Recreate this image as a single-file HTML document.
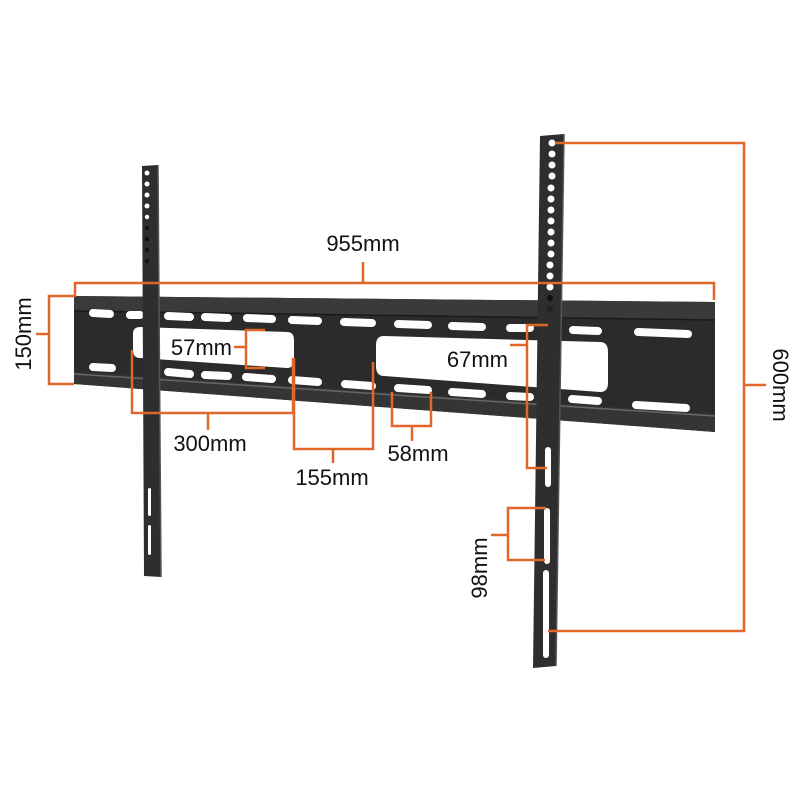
<!DOCTYPE html>
<html><head><meta charset="utf-8"><style>
html,body{margin:0;padding:0;background:#fff}
svg{display:block}
text{font-family:"Liberation Sans",sans-serif;font-size:22px;fill:#111}
</style></head><body>
<svg width="800" height="800" viewBox="0 0 800 800" xmlns="http://www.w3.org/2000/svg">
<rect width="800" height="800" fill="#fff"/>
<!-- main plate -->
<polygon points="74,296 715,302 715,432 74,384" fill="#2b2b2b"/>
<polygon points="74,296 715,302 715,320 74,311" fill="#3a3a3a"/>
<polygon points="74,372 715,414 715,432 74,384" fill="#353535"/>
<line x1="74" y1="374" x2="715" y2="416" stroke="#666" stroke-width="1.5"/>
<line x1="74" y1="311" x2="715" y2="320" stroke="#1a1a1a" stroke-width="1.5"/>
<!-- cutouts -->
<path d="M140,327 L287,332 Q294,332 294,340 L294,360 Q294,368 287,368 L140,358 Q133,358 133,350 L133,334 Q133,327 140,327Z" fill="#fff"/>
<path d="M384,336 L600,342 Q608,342 608,352 L608,383 Q608,392 600,392 L384,376 Q376,376 376,366 L376,345 Q376,336 384,336Z" fill="#fff"/>
<!-- slots -->
<g stroke="#fff" stroke-width="8" stroke-linecap="round">
<line x1="93" y1="313" x2="110" y2="314"/>
<line x1="130" y1="315" x2="140" y2="315"/>
<line x1="168" y1="316" x2="190" y2="317"/>
<line x1="205" y1="317" x2="228" y2="318"/>
<line x1="247" y1="318" x2="272" y2="319"/>
<line x1="292" y1="320" x2="318" y2="321"/>
<line x1="344" y1="322" x2="372" y2="323"/>
<line x1="398" y1="324" x2="428" y2="325"/>
<line x1="452" y1="326" x2="482" y2="327"/>
<line x1="510" y1="328" x2="530" y2="328"/>
<line x1="573" y1="330" x2="598" y2="331"/>
<line x1="638" y1="332" x2="688" y2="334"/>
<line x1="93" y1="367" x2="112" y2="368"/>
<line x1="168" y1="372" x2="190" y2="374"/>
<line x1="205" y1="375" x2="228" y2="376"/>
<line x1="246" y1="377" x2="272" y2="379"/>
<line x1="292" y1="380" x2="318" y2="382"/>
<line x1="345" y1="384" x2="372" y2="386"/>
<line x1="398" y1="388" x2="428" y2="390"/>
<line x1="452" y1="392" x2="482" y2="394"/>
<line x1="510" y1="396" x2="530" y2="397"/>
<line x1="572" y1="399" x2="598" y2="401"/>
<line x1="636" y1="405" x2="686" y2="408"/>
</g>
<!-- left arm -->
<polygon points="142,166 158,165 161,577 144,576" fill="#2e2e2e"/>
<line x1="158" y1="165" x2="161" y2="577" stroke="#555" stroke-width="1.5"/>
<g fill="#fff">
<circle cx="147" cy="173" r="2.5"/><circle cx="147" cy="184" r="2.5"/><circle cx="147" cy="195" r="2.5"/>
<circle cx="147" cy="206" r="2.5"/><circle cx="147" cy="217" r="2.2"/>
<rect x="148" y="488" width="3" height="28" rx="1.5"/><rect x="148" y="525" width="3" height="30" rx="1.5"/>
</g>
<g fill="#111"><circle cx="147" cy="228" r="2.2"/><circle cx="147" cy="239" r="2.2"/><circle cx="147" cy="250" r="2.2"/><circle cx="147" cy="261" r="2.2"/></g>
<!-- right arm -->
<polygon points="540,136 564,134 556,666 533,668" fill="#2e2e2e"/>
<line x1="564" y1="134" x2="556" y2="666" stroke="#555" stroke-width="1.5"/>
<g fill="#fff">
<circle cx="552" cy="143" r="3.5"/><circle cx="552" cy="154" r="3.5"/><circle cx="552" cy="165" r="3.5"/>
<circle cx="552" cy="176" r="3.5"/><circle cx="551" cy="188" r="3.5"/><circle cx="551" cy="199" r="3.5"/>
<circle cx="551" cy="210" r="3.5"/><circle cx="551" cy="221" r="3.5"/><circle cx="551" cy="232" r="3.5"/>
<circle cx="551" cy="243" r="3.5"/><circle cx="551" cy="254" r="3.5"/><circle cx="550" cy="265" r="3.5"/>
<circle cx="550" cy="276" r="3.5"/><circle cx="550" cy="287" r="3.5"/>
<rect x="545" y="447" width="6" height="40" rx="3"/>
<rect x="544" y="508" width="6" height="56" rx="3"/>
<rect x="543" y="570" width="6" height="88" rx="3"/>
</g>
<circle cx="550" cy="298" r="3" fill="#111"/><circle cx="550" cy="309" r="3" fill="#222"/>
<!-- dimension lines -->
<g stroke="#e0662a" stroke-width="2.5" fill="none">
<polyline points="75,297 75,283 714,283 714,300"/>
<line x1="363" y1="283" x2="363" y2="262"/>
<polyline points="74,296 49,296 49,384 74,384"/>
<line x1="36" y1="334" x2="49" y2="334"/>
<polyline points="265,330 246,330 246,368 265,368"/>
<line x1="234" y1="347" x2="246" y2="347"/>
<polyline points="132,350 132,413 293,413 293,358"/>
<line x1="208" y1="413" x2="208" y2="430"/>
<polyline points="294,358 294,449 373,449 373,362"/>
<line x1="333" y1="449" x2="333" y2="463"/>
<polyline points="392,392 392,426 431,426 431,392"/>
<line x1="412" y1="426" x2="412" y2="441"/>
<polyline points="548,325 527,325 527,468 547,468"/>
<line x1="510" y1="345" x2="527" y2="345"/>
<polyline points="546,508 508,508 508,560 545,560"/>
<line x1="491" y1="535" x2="508" y2="535"/>
<polyline points="555,143 744,143 744,631 548,631"/>
<line x1="744" y1="385" x2="766" y2="385"/>
</g>
<!-- labels -->
<text x="363" y="251" text-anchor="middle">955mm</text>
<text x="232" y="355" text-anchor="end">57mm</text>
<text x="210" y="451" text-anchor="middle">300mm</text>
<text x="332" y="485" text-anchor="middle">155mm</text>
<text x="418" y="461" text-anchor="middle">58mm</text>
<text x="508" y="367" text-anchor="end">67mm</text>
<text transform="translate(31,334) rotate(-90)" text-anchor="middle">150mm</text>
<text transform="translate(487,568) rotate(-90)" text-anchor="middle">98mm</text>
<text transform="translate(773,385) rotate(90)" text-anchor="middle">600mm</text>
</svg>
</body></html>
